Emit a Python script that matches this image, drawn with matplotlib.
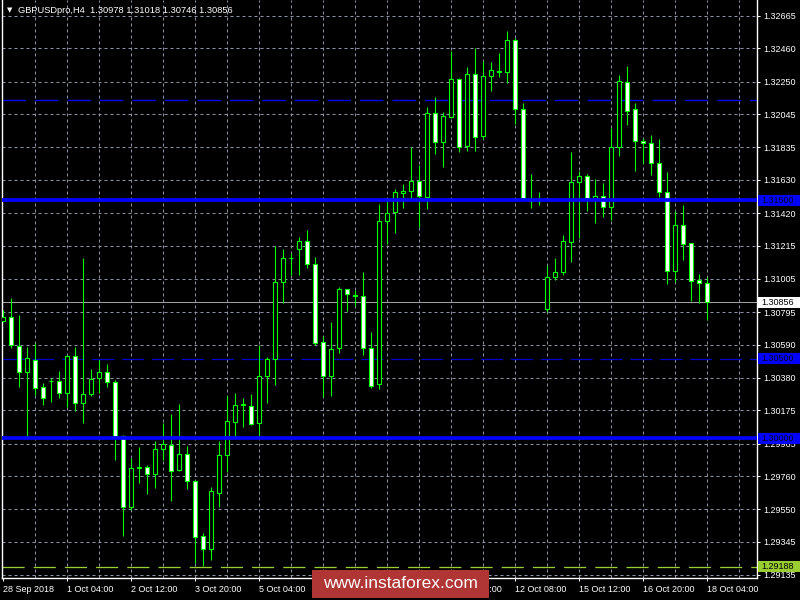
import matplotlib
matplotlib.use('Agg')
import matplotlib.pyplot as plt
from matplotlib.patches import Rectangle
import matplotlib.transforms as mtransforms

symbol = "GBPUSDpro,H4"

opens = [1.30741, 1.30766, 1.30583, 1.30415, 1.30493, 1.30320, 1.30363, 1.30360, 1.30286, 1.30516,
         1.30219, 1.30276, 1.30377, 1.30415, 1.30352, 1.30013, 1.29562, 1.29811, 1.29815, 1.29771,
         1.29929, 1.29956, 1.29800, 1.29897, 1.29727, 1.29381, 1.29301, 1.29655, 1.29891, 1.30103,
         1.30208, 1.30202, 1.30093, 1.30394, 1.30499, 1.30983, 1.31134, 1.31192, 1.31242, 1.31097,
         1.30604, 1.30394, 1.30567, 1.30939, 1.30903, 1.30899, 1.30567, 1.30339, 1.31369, 1.31425,
         1.31547, 1.31560, 1.31623, 1.31525, 1.32051, 1.31871, 1.32029, 1.32265, 1.31846, 1.32297,
         1.31909, 1.32288, 1.32315, 1.32313, 1.32512, 1.32076, 1.31509, 1.31506, 1.30813, 1.31015,
         1.31046, 1.31240, 1.31615, 1.31656, 1.31507, 1.31526, 1.31457, 1.31836, 1.32250, 1.32076,
         1.31876, 1.31861, 1.31735, 1.31555, 1.31057, 1.31345, 1.31230, 1.30998, 1.30978]

highs = [1.30808, 1.30882, 1.30777, 1.30573, 1.30602, 1.30345, 1.30377, 1.30423, 1.30524, 1.30573,
         1.31137, 1.30436, 1.30493, 1.30467, 1.30366, 1.30019, 1.29872, 1.29943, 1.29830, 1.29981,
         1.30093, 1.30152, 1.30215, 1.29950, 1.29735, 1.29398, 1.29693, 1.29981, 1.30265, 1.30282,
         1.30251, 1.30278, 1.30587, 1.30513, 1.31213, 1.31194, 1.31166, 1.31271, 1.31314, 1.31141,
         1.30646, 1.30731, 1.30952, 1.30941, 1.30935, 1.31046, 1.30668, 1.31478, 1.31497, 1.31573,
         1.31602, 1.31836, 1.31724, 1.32092, 1.32155, 1.32061, 1.32446, 1.32273, 1.32341, 1.32461,
         1.32383, 1.32373, 1.32429, 1.32570, 1.32526, 1.32114, 1.31667, 1.31552, 1.31093, 1.31135,
         1.31282, 1.31804, 1.31686, 1.31667, 1.31636, 1.31608, 1.31956, 1.32292, 1.32349, 1.32114,
         1.31893, 1.31914, 1.31888, 1.31678, 1.31435, 1.31471, 1.31232, 1.31036, 1.31018]

lows = [1.30733, 1.30567, 1.30320, 1.30008, 1.30272, 1.30208, 1.30229, 1.30255, 1.30198, 1.30172,
        1.30097, 1.30265, 1.30282, 1.30324, 1.29861, 1.29383, 1.29545, 1.29714, 1.29646, 1.29686,
        1.29861, 1.29604, 1.29794, 1.29678, 1.29213, 1.29194, 1.29230, 1.29566, 1.29783, 1.30008,
        1.30071, 1.30082, 1.30008, 1.30223, 1.30335, 1.30851, 1.31029, 1.31029, 1.31075, 1.30587,
        1.30261, 1.30265, 1.30539, 1.30802, 1.30834, 1.30524, 1.30314, 1.30310, 1.31223, 1.31297,
        1.31454, 1.31518, 1.31334, 1.31444, 1.31794, 1.31713, 1.32021, 1.31808, 1.31814, 1.31814,
        1.31886, 1.32193, 1.32282, 1.32244, 1.31981, 1.31497, 1.31454, 1.31471, 1.30796, 1.30998,
        1.31029, 1.31113, 1.31261, 1.31435, 1.31356, 1.31397, 1.31377, 1.31783, 1.31977, 1.31688,
        1.31739, 1.31661, 1.31522, 1.30973, 1.30987, 1.31124, 1.30867, 1.30851, 1.30746]

closes = [1.30766, 1.30587, 1.30415, 1.30503, 1.30314, 1.30251, 1.30357, 1.30286, 1.30516, 1.30219,
          1.30276, 1.30371, 1.30415, 1.30352, 1.30013, 1.29562, 1.29809, 1.29817, 1.29771, 1.29929,
          1.29960, 1.29794, 1.29897, 1.29727, 1.29377, 1.29297, 1.29665, 1.29891, 1.30106, 1.30207,
          1.30212, 1.30090, 1.30394, 1.30497, 1.30983, 1.31135, 1.31137, 1.31242, 1.31097, 1.30602,
          1.30394, 1.30560, 1.30939, 1.30908, 1.30899, 1.30567, 1.30330, 1.31369, 1.31419, 1.31552,
          1.31560, 1.31623, 1.31526, 1.32051, 1.31871, 1.32034, 1.32265, 1.31840, 1.32297, 1.31903,
          1.32284, 1.32322, 1.32311, 1.32512, 1.32076, 1.31518, 1.31497, 1.31494, 1.31015, 1.31048,
          1.31242, 1.31615, 1.31653, 1.31518, 1.31528, 1.31457, 1.31836, 1.32256, 1.32067, 1.31874,
          1.31861, 1.31735, 1.31555, 1.31057, 1.31345, 1.31227, 1.30993, 1.30977, 1.30856]

# two labels of the original lie fully under the watermark and are left blank
x_tick_labels = ["28 Sep 2018", "1 Oct 04:00", "2 Oct 12:00", "3 Oct 20:00", "5 Oct 04:00",
                 "", "", "11 Oct 00:00", "12 Oct 08:00", "15 Oct 12:00",
                 "16 Oct 20:00", "18 Oct 04:00"]

y_tick_values = [1.32665, 1.32460, 1.32250, 1.32045, 1.31835, 1.31630, 1.31420, 1.31215, 1.31005,
                 1.30795, 1.30590, 1.30380, 1.30175, 1.29965, 1.29760, 1.29550, 1.29345, 1.29135]

thick_levels = [1.31500, 1.30000]
dashed_blue_levels = [1.32135, 1.30500]
green_level = 1.29188

FONT = ['Liberation Sans', 'DejaVu Sans']
GREEN = '#00ff00'
GRID = '#8c96a8'
PX = 0.72  # one pixel in points at 100 dpi

fig = plt.figure(figsize=(8, 6), dpi=100, facecolor='black')
ax = fig.add_axes([2 / 800, 22 / 600, 755 / 800, 578 / 600])
ax.set_facecolor('black')
ax.set_xlim(-0.1625, 94.21)
ax.set_ylim(1.29116, 1.32766)

# grid
for k in range(4, 94, 4):
    ax.axvline(k, color=GRID, lw=PX, ls=(0, (3, 3)), zorder=1)
for v in y_tick_values:
    ax.axhline(v, color=GRID, lw=PX, ls=(0, (3, 3)), zorder=1)

# background level lines
ax.axhline(closes[-1], color='#a0a0a0', lw=PX, zorder=1.5)
ax.axhline(dashed_blue_levels[0], color='#0000ff', lw=PX * 1.3, ls=(0, (18, 7)), zorder=1.6)
ax.axhline(dashed_blue_levels[1], color='#0000c8', lw=PX * 1.3, ls=(0, (17, 6)), zorder=1.6)
ax.axhline(green_level, color='#9acd32', lw=PX * 1.3, ls=(0, (17, 7)), zorder=1.6)

# candles
for i in range(len(opens)):
    o, h, l, c = opens[i], highs[i], lows[i], closes[i]
    ax.vlines(i, l, h, color=GREEN, lw=PX * 1.1, zorder=3)
    face = 'white' if c < o else 'black'
    ax.add_patch(Rectangle((i - 0.27, min(o, c)), 0.54, abs(c - o), facecolor=face,
                           edgecolor=GREEN, lw=PX * 1.1, zorder=4))

# thick foreground levels
for v in thick_levels:
    ax.axhline(v, color='#0000ff', lw=2.7, zorder=6)

# axes styling
for s in ['left', 'right', 'bottom']:
    ax.spines[s].set_color('white')
    ax.spines[s].set_linewidth(1.0)
ax.spines['top'].set_visible(False)

ax.set_xticks(list(range(0, 8 * len(x_tick_labels), 8)))
ax.set_xticklabels(x_tick_labels, fontsize=6.5, family=FONT, color='white')
for lab in ax.get_xticklabels():
    lab.set_horizontalalignment('left')
ax.tick_params(axis='x', colors='white', length=2.2, width=PX, pad=3)

ax.yaxis.tick_right()
ax.set_yticks(y_tick_values)
ax.set_yticklabels([f"{v:.5f}" for v in y_tick_values], fontsize=6.5, family=FONT, color='white')
ax.tick_params(axis='y', colors='white', length=2.2, width=PX, pad=2)

# price label boxes on the right axis
trans = mtransforms.blended_transform_factory(fig.transFigure, ax.transData)
half = 5.5 * (1.32766 - 1.29116) / 578
boxes = [(closes[-1], 'white', 'black'),
         (thick_levels[0], '#0000ff', '#000020'),
         (dashed_blue_levels[1], '#0000ff', '#000020'),
         (thick_levels[1], '#0000ff', '#000020'),
         (green_level, '#9acd32', '#000000')]
for val, bg, fg in boxes:
    ax.add_patch(Rectangle((758 / 800, val - half), 42 / 800, 2 * half, transform=trans,
                           facecolor=bg, edgecolor='none', clip_on=False, zorder=10))
    ax.text(761 / 800, val, f"{val:.5f}", transform=trans, color=fg, fontsize=6.5,
            family=FONT, va='center', ha='left', clip_on=False, zorder=11)

# title
fig.text(9.5 / 800, 1 - 10.5 / 600, '\u25bc', color='white', fontsize=5, ha='center', va='center',
         family=['DejaVu Sans'])
fig.text(18 / 800, 1 - 10.7 / 600,
         f"{symbol}  {opens[-1]:.5f} {highs[-1]:.5f} {lows[-1]:.5f} {closes[-1]:.5f}",
         color='white', fontsize=6.7, family=FONT, va='center', ha='left')

# watermark
fig.add_artist(Rectangle((312 / 800, 2 / 600), 177 / 800, 28 / 600, transform=fig.transFigure,
                         facecolor='#b03636', edgecolor='none', zorder=20))
fig.text(400.5 / 800, 1 - 584 / 600, 'www.instaforex.com', color='white', fontsize=12.5,
         family=FONT, ha='center', va='center', zorder=21)

fig.savefig('out.png', dpi=100, facecolor='black')
